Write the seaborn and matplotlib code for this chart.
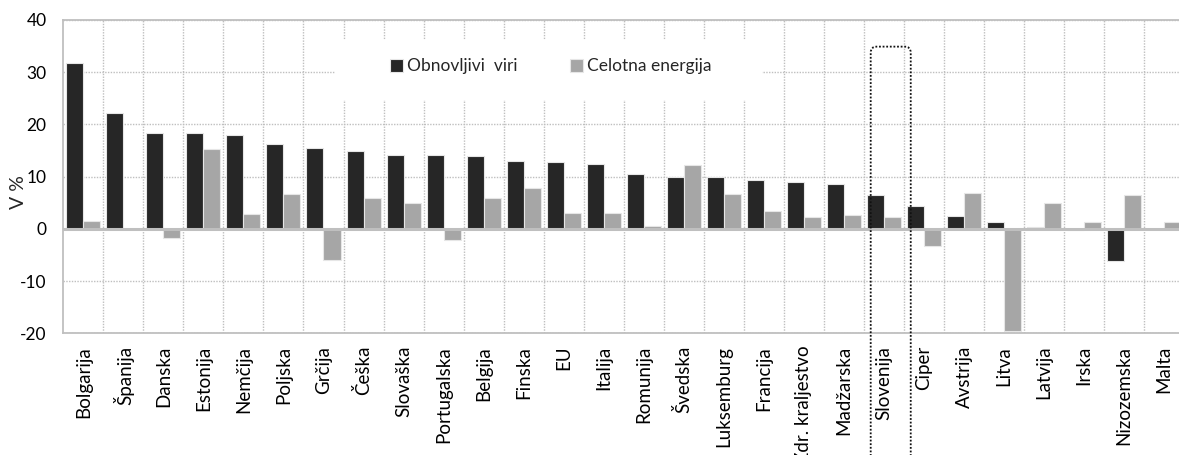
import numpy as np
import pandas as pd
import seaborn as sns
import matplotlib
matplotlib.use("Agg")
import matplotlib.pyplot as plt
from matplotlib.patches import FancyBboxPatch, Rectangle

# Countries, ordered by growth of renewable sources
countries = [
    "Bolgarija", "Španija", "Danska", "Estonija", "Nemčija", "Poljska", "Grčija",
    "Češka", "Slovaška", "Portugalska", "Belgija", "Finska", "EU", "Italija",
    "Romunija", "Švedska", "Luksemburg", "Francija", "Zdr. kraljestvo",
    "Madžarska", "Slovenija", "Ciper", "Avstrija", "Litva", "Latvija", "Irska",
    "Nizozemska", "Malta",
]
# Growth in %
obnovljivi_viri = [
    31.7, 22.2, 18.4, 18.4, 18.0, 16.2, 15.4, 14.9, 14.2, 14.2, 13.9, 13.0,
    12.8, 12.5, 10.6, 10.0, 10.0, 9.4, 8.9, 8.5, 6.5, 4.3, 2.4, 1.3, 0.45,
    -0.3, -6.2, 0.0,
]
celotna_energija = [
    1.5, 0.0, -1.8, 15.3, 2.9, 6.7, -5.9, 5.9, 5.0, -2.1, 5.9, 7.8,
    3.1, 3.1, 0.6, 12.2, 6.6, 3.4, 2.3, 2.6, 2.3, -3.2, 6.8, -19.5, 4.9,
    1.3, 6.5, 1.3,
]
series_names = ["Obnovljivi  viri", "Celotna energija"]
highlight = "Slovenija"

df = pd.DataFrame({
    "država": countries * 2,
    "vrednost": obnovljivi_viri + celotna_energija,
    "serija": [series_names[0]] * len(countries) + [series_names[1]] * len(countries),
})

sns.set_style("white")
plt.rcParams["font.family"] = ["Lato", "DejaVu Sans"]
plt.rcParams["axes.unicode_minus"] = False

W, H = 1179, 455
fig = plt.figure(figsize=(W / 100, H / 100), dpi=100)
left_px, top_px, bottom_px = 63.3, 20.0, 333.3
cell_px = 40.03
ax = fig.add_axes([left_px / W, 1 - bottom_px / H,
                   len(countries) * cell_px / W, (bottom_px - top_px) / H])

sns.barplot(
    data=df, x="država", y="vrednost", hue="serija",
    palette=["#262626", "#a6a6a6"], width=0.85, gap=0,
    edgecolor="#e6e6e6", linewidth=0.8, ax=ax, legend=True, zorder=2,
)

grid_col = "#bfbfbf"
ax.set_ylim(-20, 40)
ax.set_xlim(-0.5, len(countries) - 0.5)
ax.set_yticks(np.arange(-20, 41, 10))
ax.set_xticks(np.arange(len(countries)))
ax.set_xticklabels(countries, rotation=90, va="top", ha="center")
ax.set_xticks(np.arange(len(countries) - 1) + 0.5, minor=True)
ax.tick_params(axis="both", which="both", length=0, colors="black")
ax.tick_params(axis="x", pad=9, labelsize=13.5)
ax.tick_params(axis="y", pad=12, labelsize=12.5)

ax.set_axisbelow(True)
ax.yaxis.grid(True, linestyle=(0, (1, 1)), color=grid_col, linewidth=1.0)
ax.xaxis.grid(True, which="minor", linestyle=(0, (1, 1)), color=grid_col, linewidth=1.0)
ax.xaxis.grid(False, which="major")
ax.axhline(0, color=grid_col, linewidth=2.2, zorder=3)

for side in ["top", "left", "bottom"]:
    ax.spines[side].set_color(grid_col)
    ax.spines[side].set_linewidth(1.3)
ax.spines["right"].set_visible(False)

ax.set_xlabel("")
ax.set_ylabel("V %", fontsize=14)
ax.yaxis.set_label_coords(-0.032, 0.45)

# white panel behind the legend hides the gridlines there
ax.add_patch(Rectangle((335 / W, 1 - 100 / H), (762 - 335) / W, 60 / H,
                       transform=fig.transFigure, facecolor="white",
                       edgecolor="none", zorder=1))

handles, labels = ax.get_legend_handles_labels()
ax.legend(handles, labels, loc="center", bbox_to_anchor=(551 / W, 1 - 66.5 / H),
          bbox_transform=fig.transFigure, ncol=2, frameon=False, fontsize=12.5,
          handlelength=0.75, handleheight=0.75, handletextpad=0.25,
          columnspacing=3.0, borderpad=0)

# dotted rounded frame around Slovenia, running down through its label
idx = countries.index(highlight)
box = FancyBboxPatch((idx - 0.33, -60), 1.0, 60 + 34.9,
                     boxstyle="round,pad=0,rounding_size=0.15",
                     mutation_aspect=7.7, facecolor="none", edgecolor="#111111",
                     linewidth=1.3, linestyle=(0, (1, 1)), clip_on=False, zorder=4)
ax.add_patch(box)

fig.savefig("out.png", dpi=100)
